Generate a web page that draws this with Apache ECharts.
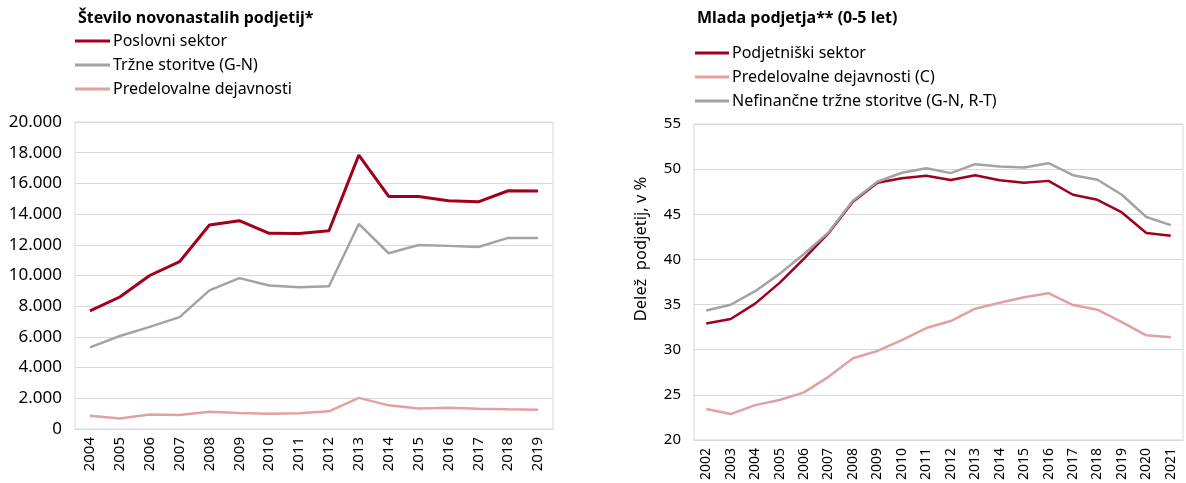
<!DOCTYPE html>
<html>
<head>
<meta charset="utf-8">
<script src="https://cdn.jsdelivr.net/npm/echarts@6/dist/echarts.min.js"></script>
<style>
  html, body { margin: 0; padding: 0; background: #fff; }
  #main { width: 1186px; height: 483px; }
</style>
</head>
<body>
<div id="main"></div>
<script>
// levi graf - število novonastalih podjetij
const yearsLeft = ['2004','2005','2006','2007','2008','2009','2010','2011','2012','2013','2014','2015','2016','2017','2018','2019'];
const poslovniSektor = [7700, 8600, 10000, 10900, 13290, 13570, 12750, 12730, 12920, 17840, 15150, 15150, 14870, 14800, 15520, 15500];
const trzneStoritve = [5320, 6060, 6650, 7290, 9030, 9830, 9350, 9240, 9300, 13360, 11450, 11990, 11930, 11860, 12450, 12450];
const predelovalne = [870, 690, 950, 910, 1120, 1040, 1000, 1020, 1150, 2030, 1540, 1340, 1380, 1320, 1280, 1260];

// desni graf - mlada podjetja (0-5 let), delež v %
const yearsRight = ['2002','2003','2004','2005','2006','2007','2008','2009','2010','2011','2012','2013','2014','2015','2016','2017','2018','2019','2020','2021'];
const podjetniskiSektor = [32.9, 33.4, 35.1, 37.4, 40.1, 42.9, 46.4, 48.5, 49.0, 49.26, 48.8, 49.33, 48.78, 48.5, 48.7, 47.16, 46.6, 45.2, 42.93, 42.63];
const predelovalneC = [23.42, 22.87, 23.86, 24.42, 25.27, 26.99, 29.05, 29.86, 31.07, 32.4, 33.17, 34.54, 35.2, 35.8, 36.26, 34.94, 34.43, 33.06, 31.59, 31.37];
const nefinancne = [34.35, 34.98, 36.48, 38.4, 40.6, 43.0, 46.5, 48.6, 49.6, 50.1, 49.56, 50.55, 50.29, 50.18, 50.66, 49.33, 48.82, 47.16, 44.7, 43.8];

const RED = '#a0001e';
const GRAY = '#a3a3a3';
const PINK = '#e3a0a0';
const FONT = 'Noto Sans';
const GRIDC = '#d9d9d9';

const thousands = v => String(v).replace(/\B(?=(\d{3})+(?!\d))/g, '.');

const chart = echarts.init(document.getElementById('main'));

const line = (name, data, color, width, idx) => ({
  name: name,
  type: 'line',
  xAxisIndex: idx,
  yAxisIndex: idx,
  data: data,
  symbol: 'none',
  lineStyle: { color: color, width: width },
  itemStyle: { color: color },
  animation: false
});

const xAx = (data, idx, fs) => ({
  type: 'category',
  gridIndex: idx,
  data: data,
  boundaryGap: true,
  axisLine: { lineStyle: { color: GRIDC } },
  axisTick: { show: false },
  axisLabel: { rotate: 90, margin: 8, fontSize: fs, color: '#000', fontFamily: FONT }
});

const legendText = { fontSize: 16, color: '#000', fontFamily: FONT, padding: [0, 0, 0, -2] };

chart.setOption({
  textStyle: { fontFamily: FONT },
  title: [
    { text: 'Število novonastalih podjetij*', left: 73, top: 5,
      textStyle: { fontSize: 16, fontWeight: 'bold', color: '#000', fontFamily: FONT } },
    { text: 'Mlada podjetja** (0-5 let)', left: 692, top: 5,
      textStyle: { fontSize: 16, fontWeight: 'bold', color: '#000', fontFamily: FONT } }
  ],
  legend: [
    { data: ['Poslovni sektor', 'Tržne storitve (G-N)', 'Predelovalne dejavnosti'],
      orient: 'vertical', left: 70, top: 28, icon: 'rect', itemWidth: 35, itemHeight: 3, itemGap: 8,
      textStyle: legendText },
    { data: ['Podjetniški sektor', 'Predelovalne dejavnosti (C)', 'Nefinančne tržne storitve (G-N, R-T)'],
      orient: 'vertical', left: 690, top: 40, icon: 'rect', itemWidth: 34, itemHeight: 3, itemGap: 8,
      textStyle: legendText }
  ],
  grid: [
    { left: 75, right: 633, top: 122, bottom: 54, show: true, borderColor: GRIDC, borderWidth: 1 },
    { left: 694, right: 3, top: 124, bottom: 42, show: true, borderColor: GRIDC, borderWidth: 1 }
  ],
  xAxis: [xAx(yearsLeft, 0, 15), xAx(yearsRight, 1, 14)],
  yAxis: [
    { type: 'value', gridIndex: 0, min: 0, max: 20000, interval: 2000,
      axisLine: { show: false }, axisTick: { show: false },
      splitLine: { lineStyle: { color: GRIDC } },
      axisLabel: { fontSize: 17, color: '#000', margin: 13, fontFamily: FONT, formatter: thousands } },
    { type: 'value', gridIndex: 1, min: 20, max: 55, interval: 5,
      name: 'Delež  podjetij, v %', nameLocation: 'middle', nameGap: 44,
      nameTextStyle: { fontSize: 16.5, color: '#000', fontFamily: FONT, padding: [0, 0, 0, 66] },
      axisLine: { show: false }, axisTick: { show: false },
      splitLine: { lineStyle: { color: GRIDC } },
      axisLabel: { fontSize: 15, color: '#000', margin: 13, fontFamily: FONT } }
  ],
  series: [
    line('Poslovni sektor', poslovniSektor, RED, 3, 0),
    line('Tržne storitve (G-N)', trzneStoritve, GRAY, 2.5, 0),
    line('Predelovalne dejavnosti', predelovalne, PINK, 2.5, 0),
    line('Podjetniški sektor', podjetniskiSektor, RED, 2.5, 1),
    line('Predelovalne dejavnosti (C)', predelovalneC, PINK, 2.5, 1),
    line('Nefinančne tržne storitve (G-N, R-T)', nefinancne, GRAY, 2.5, 1)
  ]
});
</script>
</body>
</html>
